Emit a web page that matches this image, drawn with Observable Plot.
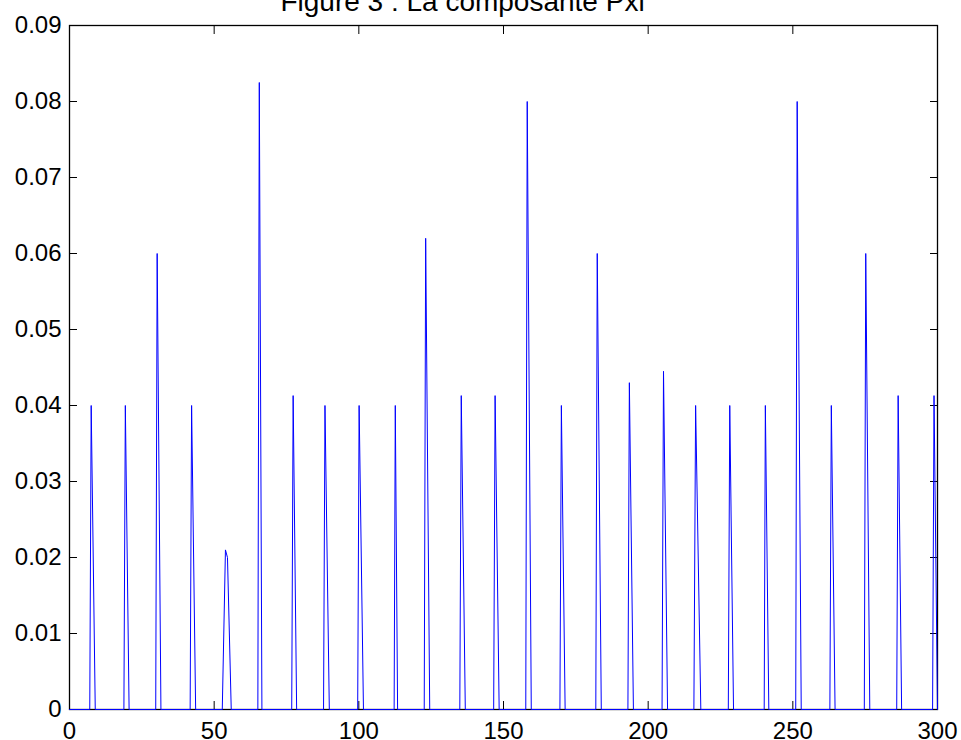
<!DOCTYPE html>
<html>
<head>
<meta charset="utf-8">
<script src="https://cdn.jsdelivr.net/npm/d3@7"></script>
<script src="https://cdn.jsdelivr.net/npm/@observablehq/plot@0.6"></script>
<style>
  html, body { margin: 0; padding: 0; background: #fff; }
  #chart svg { display: block; }
</style>
</head>
<body>
<div id="chart"></div>
<script>
const titleText = "Figure 3 : La composante Pxl";
const xTicks = [0, 50, 100, 150, 200, 250, 300];
const yTicks = [0, 0.01, 0.02, 0.03, 0.04, 0.05, 0.06, 0.07, 0.08, 0.09];

// Signal vertices (sample position, value)
const sampleX = [
  0,
  7.0, 7.5, 8.9,
  18.8, 19.3, 20.6,
  29.8, 30.3, 31.6,
  41.7, 42.2, 43.6,
  52.8, 53.9, 54.6, 55.9,
  65.1, 65.6, 66.5,
  76.8, 77.3, 78.5,
  87.8, 88.3, 89.8,
  99.6, 100.1, 101.6,
  112.2, 112.6, 113.4,
  122.6, 123.1, 124.5,
  134.9, 135.4, 136.8,
  146.6, 147.1, 148.5,
  157.7, 158.2, 159.6,
  169.5, 170.0, 171.3,
  181.9, 182.4, 183.8,
  193.0, 193.5, 194.9,
  204.8, 205.3, 206.7,
  215.8, 216.4, 218.2,
  227.7, 228.2, 229.5,
  240.1, 240.5, 241.7,
  251.0, 251.5, 252.9,
  262.8, 263.3, 264.6,
  274.7, 275.2, 276.6,
  285.9, 286.4, 287.6,
  298.3, 298.8, 300
];
const sampleY = [
  0,
  0, 0.040, 0,
  0, 0.040, 0,
  0, 0.060, 0,
  0, 0.040, 0,
  0, 0.021, 0.020, 0,
  0, 0.0825, 0,
  0, 0.0413, 0,
  0, 0.040, 0,
  0, 0.040, 0,
  0, 0.040, 0,
  0, 0.062, 0,
  0, 0.0413, 0,
  0, 0.0413, 0,
  0, 0.080, 0,
  0, 0.040, 0,
  0, 0.060, 0,
  0, 0.043, 0,
  0, 0.0445, 0,
  0, 0.040, 0,
  0, 0.040, 0,
  0, 0.040, 0,
  0, 0.080, 0,
  0, 0.040, 0,
  0, 0.060, 0,
  0, 0.0413, 0,
  0, 0.0413, 0
];

const data = sampleX.map((x, i) => ({x, y: sampleY[i]}));
const fmtY = d => d === 0 ? "0" : d.toFixed(2);

const chart = Plot.plot({
  width: 961,
  height: 740,
  marginLeft: 69,
  marginRight: 24,
  marginTop: 25,
  marginBottom: 31,
  style: {fontFamily: "'Liberation Sans', Arial, sans-serif", color: "black", background: "white"},
  x: {domain: [0, 300]},
  y: {domain: [0, 0.09]},
  marks: [
    Plot.frame({stroke: "black", strokeWidth: 1.3}),
    Plot.axisX(xTicks, {anchor: "bottom", tickSize: 0, tickPadding: 12, fontSize: 24, label: null}),
    Plot.axisX(xTicks, {anchor: "bottom", tickSize: -8, text: null, label: null}),
    Plot.axisX(xTicks, {anchor: "top", tickSize: -8, text: null, label: null}),
    Plot.axisY(yTicks, {anchor: "left", tickSize: 0, tickPadding: 8, fontSize: 24, tickFormat: fmtY, label: null}),
    Plot.axisY(yTicks, {anchor: "left", tickSize: -8, text: null, label: null}),
    Plot.axisY(yTicks, {anchor: "right", tickSize: -8, text: null, label: null}),
    Plot.lineY(data, {x: "x", y: "y", stroke: "#0000ff", strokeWidth: 1}),
    Plot.text([titleText], {frameAnchor: "top", dx: -41, dy: -15, lineAnchor: "bottom", fontSize: 28, text: d => d})
  ]
});
document.getElementById("chart").appendChild(chart);
</script>
</body>
</html>
